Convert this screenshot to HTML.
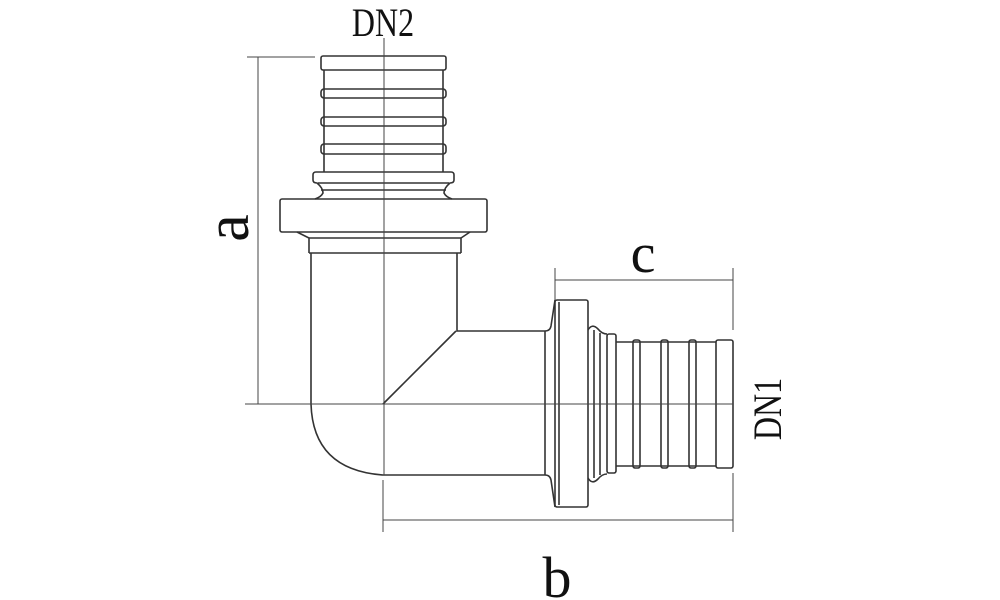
<!DOCTYPE html>
<html><head><style>html,body{margin:0;padding:0;background:#fff;}svg{display:block}</style></head>
<body>
<svg width="1000" height="600" viewBox="0 0 1000 600" xmlns="http://www.w3.org/2000/svg">
<g fill="none" stroke="#333" stroke-width="1.6">
<rect x="321" y="56" width="125" height="14" rx="2"/>
<line x1="324" y1="70" x2="324" y2="172"/><line x1="443" y1="70" x2="443" y2="172"/>
<rect x="321" y="89" width="125" height="9" rx="3"/>
<rect x="321" y="117" width="125" height="9" rx="3"/>
<rect x="321" y="144" width="125" height="10" rx="3"/>
<path d="M316 172 H451 Q454 172 454 175 V180 Q454 183 450 183 Q444 188 444 193 Q446 197 452 199 M316 172 Q313 172 313 175 V180 Q313 183 317 183 Q323 188 323 193 Q321 197 315 199"/>
<line x1="318" y1="183" x2="449" y2="183"/>
<line x1="321" y1="190" x2="446" y2="190"/>
<rect x="280" y="199" width="207" height="33" rx="2"/>
<path d="M297 232 L309 238 V253 M470 232 L461 238 V253"/>
<line x1="309" y1="238" x2="461" y2="238"/>
<line x1="309" y1="253" x2="461" y2="253"/>
<path d="M311 253 V404 Q313 470 383 475 H545 Q550 475 551 480 L555 507"/>
<path d="M457 253 V331 H545 Q550 331 551 326 L555 300"/>
<line x1="456" y1="331" x2="383" y2="404"/>
<line x1="545" y1="331" x2="545" y2="475"/>
<rect x="555" y="300" width="33" height="207" rx="2"/>
<line x1="559" y1="302" x2="559" y2="505"/>
<path d="M588 330 Q592 323 598 329 Q602 334 607 334 M588 478 Q592 485 598 479 Q602 474 607 474"/>
<line x1="594" y1="330" x2="594" y2="478"/><line x1="600" y1="333" x2="600" y2="475"/>
<rect x="607" y="334" width="9" height="139" rx="2"/>
<line x1="616" y1="342" x2="716" y2="342"/><line x1="616" y1="466" x2="716" y2="466"/>
<rect x="633" y="340" width="7" height="128" rx="2"/>
<rect x="661" y="340" width="7" height="128" rx="2"/>
<rect x="689" y="340" width="7" height="128" rx="2"/>
<rect x="716" y="340" width="17" height="128" rx="2"/>
</g>
<g stroke="#444" stroke-width="1">
<line x1="384" y1="38" x2="384" y2="475"/>
<line x1="245" y1="404" x2="733" y2="404"/>
<line x1="258" y1="57" x2="258" y2="404"/>
<line x1="247" y1="57" x2="315" y2="57"/>
<line x1="555" y1="280" x2="733" y2="280"/>
<line x1="555" y1="268" x2="555" y2="300"/>
<line x1="733" y1="268" x2="733" y2="330"/>
<line x1="383" y1="520" x2="733" y2="520"/>
<line x1="383" y1="480" x2="383" y2="532"/>
<line x1="733" y1="473" x2="733" y2="532"/>
</g>
<g font-family="Liberation Serif, serif" fill="#111">
<text x="0" y="0" font-size="40" text-anchor="middle" transform="translate(383 36) scale(0.8 1)">DN2</text>
<text x="0" y="0" font-size="62" text-anchor="middle" transform="translate(248 228) rotate(-90)">a</text>
<text x="643" y="272" font-size="56" text-anchor="middle">c</text>
<text x="557" y="597" font-size="58" text-anchor="middle">b</text>
<text x="0" y="0" font-size="40" text-anchor="middle" transform="translate(781 409) rotate(-90) scale(0.8 1)">DN1</text>
</g>
</svg>
</body></html>
